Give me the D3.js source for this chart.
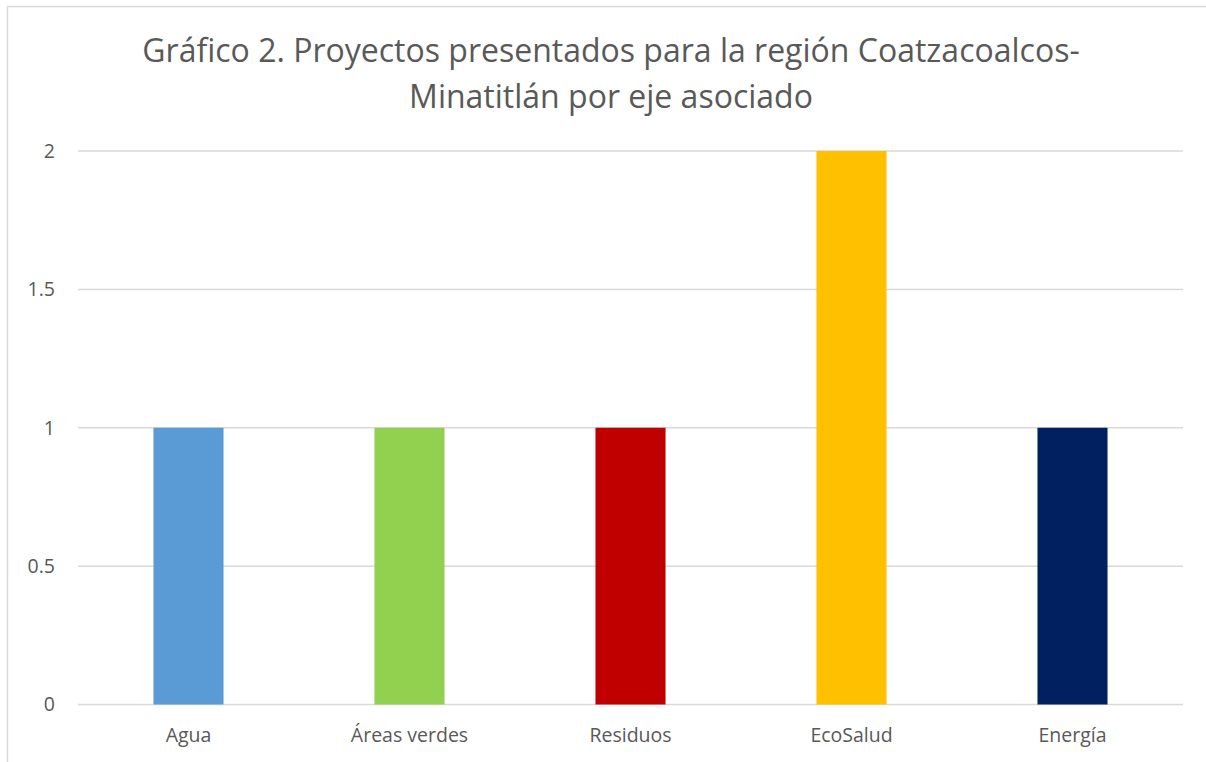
<!DOCTYPE html>
<html>
<script src="https://d3js.org/d3.v7.min.js"></script>

<head>
    <style>
        body {
            margin: 0;
            background-color: #ffffff;
            font-family: "Open Sans", Arial, sans-serif;
        }

        svg {
            display: block;
        }
    </style>
</head>

<body>
</body>
<script>
    const width = 1206,
        height = 762;

    const categories = ["Agua", "Áreas verdes", "Residuos", "EcoSalud", "Energía"];
    const values = [1, 1, 1, 2, 1];
    const barColors = ["#5b9bd5", "#92d050", "#c00000", "#ffc000", "#002060"];
    const yTicks = [0, 0.5, 1, 1.5, 2];
    const titleLines = [
        "Gráfico 2. Proyectos presentados para la región Coatzacoalcos-",
        "Minatitlán por eje asociado"
    ];

    const margin = { left: 78, right: 23, top: 151, bottom: 57 };

    const svg = d3.select("body").append("svg")
        .attr("width", width)
        .attr("height", height);

    // chart frame (cut off at right and bottom like the screenshot)
    svg.append("rect")
        .attr("x", 7.5)
        .attr("y", 6.5)
        .attr("width", width + 20)
        .attr("height", height + 20)
        .attr("fill", "white")
        .attr("stroke", "#d9d9d9")
        .attr("stroke-width", 1.5);

    const x = d3.scaleBand()
        .domain(categories)
        .range([margin.left, width - margin.right])
        .paddingInner(0.683)
        .paddingOuter(0.3415);

    const y = d3.scaleLinear()
        .domain([0, 2])
        .range([height - margin.bottom - 0.5, margin.top]);

    // gridlines
    svg.append("g")
        .selectAll("line")
        .data(yTicks)
        .enter()
        .append("line")
        .attr("x1", margin.left)
        .attr("x2", width - margin.right)
        .attr("y1", d => y(d))
        .attr("y2", d => y(d))
        .attr("stroke", "#d9d9d9")
        .attr("stroke-width", 1.5);

    // y axis labels
    const yAxis = svg.append("g")
        .attr("transform", `translate(${margin.left - 23},0)`)
        .call(d3.axisLeft(y).tickValues(yTicks).tickSize(0).tickPadding(0).tickFormat(d3.format("")));
    yAxis.select(".domain").remove();
    yAxis.selectAll("text")
        .attr("fill", "#595959")
        .attr("font-family", "Open Sans")
        .attr("font-size", "19.5px");

    // bars
    svg.append("g")
        .selectAll("rect")
        .data(categories)
        .enter()
        .append("rect")
        .attr("x", d => x(d))
        .attr("width", x.bandwidth())
        .attr("y", (d, i) => y(values[i]))
        .attr("height", (d, i) => y(0) - y(values[i]))
        .attr("fill", (d, i) => barColors[i]);

    // x axis labels
    const xAxis = svg.append("g")
        .attr("transform", `translate(0,${y(0)})`)
        .call(d3.axisBottom(x).tickSize(0).tickPadding(24));
    xAxis.select(".domain").remove();
    xAxis.selectAll("text")
        .attr("fill", "#595959")
        .attr("font-family", "Open Sans")
        .attr("font-size", "19.5px");

    // title
    svg.append("g")
        .selectAll("text")
        .data(titleLines)
        .enter()
        .append("text")
        .attr("x", 611)
        .attr("y", (d, i) => 62 + i * 46)
        .attr("text-anchor", "middle")
        .attr("fill", "#595959")
        .attr("font-family", "Open Sans")
        .attr("font-size", "32px")
        .text(d => d);
</script>

</html>
